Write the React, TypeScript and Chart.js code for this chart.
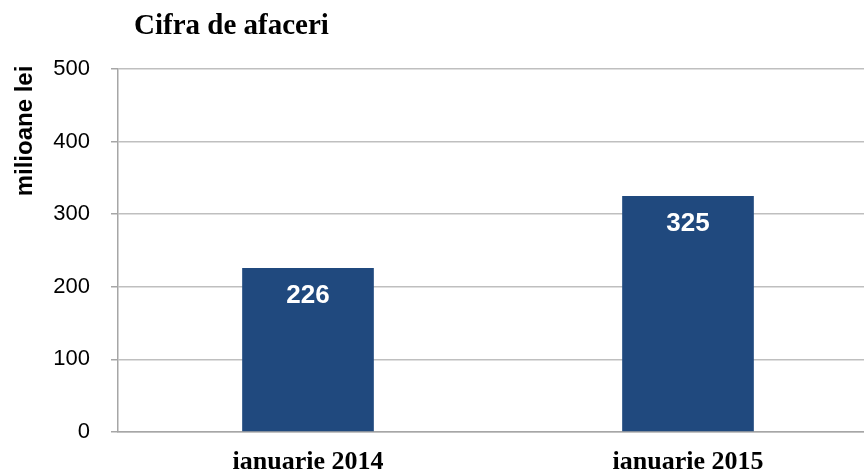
import React, { useEffect, useRef } from "react";
import { Chart, registerables } from "chart.js";

Chart.register(...registerables);

const categories = ["ianuarie 2014", "ianuarie 2015"];
const values = [226, 325];
const chartTitle = "Cifra de afaceri";
const yAxisTitle = "milioane lei";
const yMin = 0;
const yMax = 500;
const yStep = 100;

const BAR_COLOR = "#20497e";

const overlay = {
  id: "overlay",
  afterDraw(chart: any) {
    const ctx = chart.ctx;
    ctx.save();
    // chart title
    ctx.fillStyle = "#000";
    ctx.font = "bold 29px 'Liberation Serif', 'Times New Roman', serif";
    ctx.textAlign = "left";
    ctx.textBaseline = "alphabetic";
    ctx.fillText(chartTitle, 134, 34);
    // y axis title
    ctx.translate(32, 131);
    ctx.rotate(-Math.PI / 2);
    ctx.font = "bold 24px 'Liberation Sans', Arial, sans-serif";
    ctx.textAlign = "center";
    ctx.textBaseline = "alphabetic";
    ctx.fillText(yAxisTitle, 0, 0);
    ctx.restore();

    // bar value labels
    const meta = chart.getDatasetMeta(0);
    ctx.save();
    ctx.fillStyle = "#fff";
    ctx.font = "bold 26px 'Liberation Sans', Arial, sans-serif";
    ctx.textAlign = "center";
    ctx.textBaseline = "middle";
    meta.data.forEach((bar: any, i: number) => {
      ctx.fillText(String(values[i]), bar.x, bar.y + 28);
    });
    ctx.restore();
  },
};

export default function App() {
  const ref = useRef<HTMLCanvasElement>(null);
  useEffect(() => {
    document.body.style.margin = "0";
    document.body.style.overflow = "hidden";
    const chart = new Chart(ref.current!, {
      type: "bar",
      data: {
        labels: categories,
        datasets: [
          {
            data: values,
            backgroundColor: BAR_COLOR,
            borderWidth: 0,
            barPercentage: 0.7,
            categoryPercentage: 0.495,
          },
        ],
      },
      options: {
        animation: false,
        responsive: false,
        maintainAspectRatio: false,
        layout: { padding: { top: 69, left: 0, right: 0, bottom: 0 } },
        plugins: {
          legend: { display: false },
          tooltip: { enabled: false },
          title: { display: false },
        },
        scales: {
          x: {
            grid: { display: false, drawTicks: false },
            border: { display: true, color: "#a6a6a6", width: 1.5 },
            ticks: {
              color: "#000",
              padding: 15,
              font: { family: "'Liberation Serif', 'Times New Roman', serif", size: 26, weight: "bold" },
            },
            afterFit(scale: any) {
              scale.height = 41;
            },
          },
          y: {
            min: yMin,
            max: yMax,
            ticks: {
              stepSize: yStep,
              color: "#000",
              padding: 21,
              font: { family: "'Liberation Sans', Arial, sans-serif", size: 22 },
            },
            grid: { color: "#bfbfbf", lineWidth: 1.5, tickLength: 7, tickColor: "#a6a6a6" },
            border: { display: true, color: "#a6a6a6", width: 1.5 },
            afterFit(scale: any) {
              scale.width = 118;
            },
          },
        },
      },
      plugins: [overlay],
    });
    return () => chart.destroy();
  }, []);
  return (
    <div style={{ width: 864, height: 473, overflow: "hidden" }}>
      <canvas ref={ref} width={878} height={473} style={{ display: "block" }} />
    </div>
  );
}
